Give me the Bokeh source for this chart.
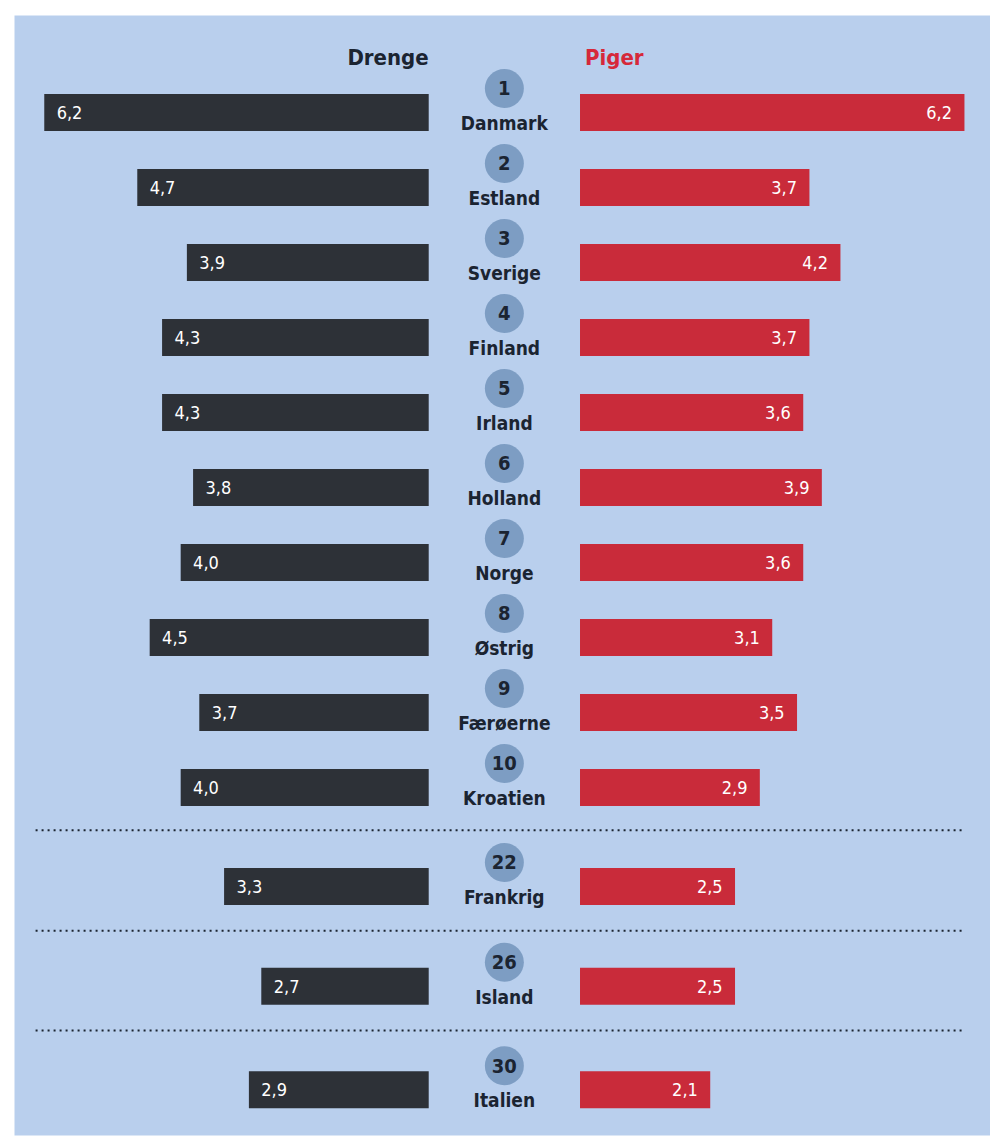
import numpy as np
from bokeh.plotting import figure
from bokeh.models import Range1d, ColumnDataSource
from bokeh.core.properties import value
from bokeh.embed import file_html
from bokeh.resources import INLINE

countries = ["Danmark", "Estland", "Sverige", "Finland", "Irland", "Holland", "Norge",
             "Østrig", "Færøerne", "Kroatien", "Frankrig", "Island", "Italien"]
ranks = ["1", "2", "3", "4", "5", "6", "7", "8", "9", "10", "22", "26", "30"]
drenge = [6.2, 4.7, 3.9, 4.3, 4.3, 3.8, 4.0, 4.5, 3.7, 4.0, 3.3, 2.7, 2.9]
piger = [6.2, 3.7, 4.2, 3.7, 3.6, 3.9, 3.6, 3.1, 3.5, 2.9, 2.5, 2.5, 2.1]

BG = "#b9cfed"
DARK = "#2d3137"
RED = "#c92b3a"
CIRC = "#7d9dc3"
NARROW = value("DejaVu Sans Condensed, Roboto, sans-serif")

G = 1.22  # half gap between the two bar groups (value units)

# row positions: top ten evenly, the rest spaced further apart
pos = [float(i) for i in range(10)] + [10.32, 11.65, 13.03]
y = -np.array(pos)
seps = -np.array([9.57, 10.91, 12.24])

d = np.array(drenge)
g = np.array(piger)
fmt = lambda v: f"{v:.1f}".replace(".", ",")

src = ColumnDataSource(dict(
    y=y,
    bl=-(G + d), br=np.full(len(d), -G),
    gl=np.full(len(g), G), gr=G + g,
    dlab=[fmt(v) for v in d], glab=[fmt(v) for v in g],
    dtx=-(G + d) + 0.2, gtx=G + g - 0.2,
    cy=y + 0.32, ly=y - 0.14,
    rank=ranks, country=countries, cx=np.zeros(len(d)),
))

p = figure(width=990, height=1139, output_backend="svg", toolbar_location=None,
           x_range=Range1d(-7.90, 7.84), y_range=Range1d(-13.64, 1.293),
           min_border_left=14, min_border_top=15, min_border_right=0, min_border_bottom=4)
p.background_fill_color = BG
p.border_fill_color = "white"
p.outline_line_color = None
p.axis.visible = False
p.grid.visible = False

h = 0.493
p.hbar(y="y", left="bl", right="br", height=h, source=src, fill_color=DARK, line_color=None)
p.hbar(y="y", left="gl", right="gr", height=h, source=src, fill_color=RED, line_color=None)

p.text(x="dtx", y="y", text="dlab", source=src, text_color="white", text_font=NARROW,
       text_font_size="18px", text_align="left", text_baseline="middle")
p.text(x="gtx", y="y", text="glab", source=src, text_color="white", text_font=NARROW,
       text_font_size="18px", text_align="right", text_baseline="middle")

p.scatter(x="cx", y="cy", size=39, source=src, fill_color=CIRC, line_color=None)
p.text(x="cx", y="cy", text="rank", source=src, text_color="#1b2431", text_font=NARROW,
       text_font_style="bold", text_font_size="20px", text_align="center", text_baseline="middle")
p.text(x="cx", y="ly", text="country", source=src, text_color="#1b2431", text_font=NARROW,
       text_font_style="bold", text_font_size="19px", text_align="center", text_baseline="middle")

for s in seps:
    p.line(x=[-7.56, 7.39], y=[s, s], line_color="#1b2431", line_width=2,
           line_dash="2 4", line_cap="butt")

p.text(x=[-G], y=[0.73], text=["Drenge"], text_color="#1b2431", text_font=NARROW,
       text_font_style="bold", text_font_size="22px", text_align="right", text_baseline="middle")
p.text(x=[G + 0.08], y=[0.73], text=["Piger"], text_color="#d6283a", text_font=NARROW,
       text_font_style="bold", text_font_size="22px", text_align="left", text_baseline="middle")

open("out.html", "w").write(file_html(p, INLINE))
